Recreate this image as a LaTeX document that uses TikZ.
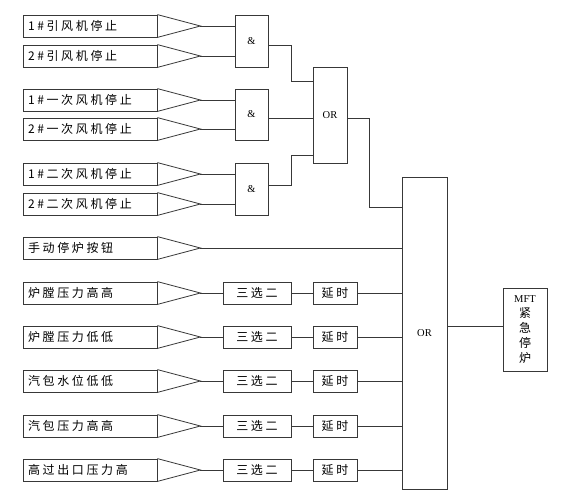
\documentclass[tikz,border=0pt]{standalone}
\usepackage{fontspec}
\setmainfont{Liberation Serif}
\newfontfamily\cjk[LetterSpace=22]{Noto Sans CJK SC}
\usetikzlibrary{calc}
\tikzset{
  ln/.style={draw=black!78, line width=0.8pt},
  inbox/.style={ln, rectangle, minimum height=22pt, text width=124pt, inner xsep=5pt, inner ysep=0pt, align=left, font=\cjk\fontsize{12pt}{14pt}\selectfont},
  gate/.style={ln, rectangle, minimum width=33pt, inner sep=0pt, font=\fontsize{10.5pt}{12pt}\selectfont},
  smallbox/.style={ln, rectangle, minimum height=22pt, inner sep=0pt, font=\cjk\fontsize{12pt}{14pt}\selectfont},
  wire/.style={ln}
}
\begin{document}
\begin{tikzpicture}[x=1pt,y=-1pt]
\useasboundingbox[fill=white] (0,0) rectangle (563,504);
% input boxes
\foreach \n/\y/\t in {1/26/1\#引风机停止, 2/56/2\#引风机停止, 3/100/1\#一次风机停止, 4/129/2\#一次风机停止, 5/174/1\#二次风机停止, 6/204/2\#二次风机停止, 7/248/手动停炉按钮, 8/293/炉膛压力高高, 9/337/炉膛压力低低, 10/381/汽包水位低低, 11/426/汽包压力高高, 12/470/高过出口压力高}{
  \node[inbox] (in\n) at (90,\y) {\t};
  \coordinate (t\n) at ($(in\n.east)+(43pt,0)$);
  \draw[ln] (in\n.north east) -- (t\n) -- (in\n.south east);
}
% AND gates
\node[gate, minimum height=52pt] (g1) at (251.5,41) {\&};
\node[gate, minimum height=51pt] (g2) at (251.5,114.5) {\&};
\node[gate, minimum height=52pt] (g3) at (251.5,189) {\&};
% OR gates
\node[gate, minimum width=34pt, minimum height=96pt] (or1) at (330,115) {OR};
\node[gate, minimum width=45pt, minimum height=312pt] (or2) at (424.5,333) {OR};
\node[gate, minimum width=44pt, minimum height=83pt, align=center, font=\fontsize{10.5pt}{15pt}\selectfont] (mft) at (525,329.5) {MFT\\{\cjk\fontsize{12pt}{15pt}\selectfont 紧}\\{\cjk\fontsize{12pt}{15pt}\selectfont 急}\\{\cjk\fontsize{12pt}{15pt}\selectfont 停}\\{\cjk\fontsize{12pt}{15pt}\selectfont 炉}};
% inputs to AND gates
\draw[wire] (t1) -- (t1 -| g1.west);
\draw[wire] (t2) -- (t2 -| g1.west);
\draw[wire] (t3) -- (t3 -| g2.west);
\draw[wire] (t4) -- (t4 -| g2.west);
\draw[wire] (t5) -- (t5 -| g3.west);
\draw[wire] (t6) -- (t6 -| g3.west);
% AND outputs to OR1
\coordinate (o1) at (g1.east |- 0,45);
\coordinate (o2) at (g2.east |- 0,118);
\coordinate (o3) at (g3.east |- 0,185);
\draw[wire] (o1) -- (291,45) -- (291,81) -- (or1.west |- 0,81);
\draw[wire] (o2) -- (or1.west |- o2);
\draw[wire] (o3) -- (291,185) -- (291,155) -- (or1.west |- 0,155);
% OR1 to OR2
\draw[wire] (or1.east |- 0,118) -- (369,118) -- (369,207) -- (or2.west |- 0,207);
% manual button
\draw[wire] (t7) -- (t7 -| or2.west);
% 2oo3 + delay rows
\foreach \n in {8,...,12}{
  \node[smallbox, minimum width=68pt] (s\n) at (257,0 |- t\n) {三选二};
  \node[smallbox, minimum width=44pt] (d\n) at (335,0 |- t\n) {延时};
  \draw[wire] (t\n) -- (s\n.west);
  \draw[wire] (s\n.east) -- (d\n.west);
  \draw[wire] (d\n.east) -- (d\n.east -| or2.west);
}
% OR2 to MFT
\draw[wire] (or2.east |- 0,326) -- (mft.west |- 0,326);
\end{tikzpicture}
\end{document}
